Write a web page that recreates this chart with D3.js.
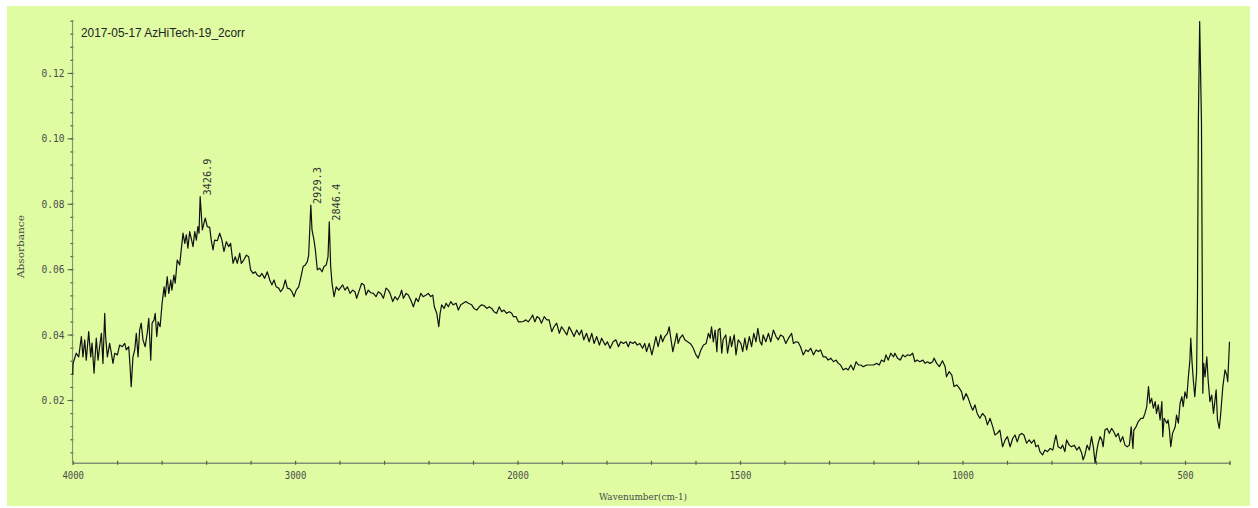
<!DOCTYPE html>
<html><head><meta charset="utf-8">
<script src="https://cdn.jsdelivr.net/npm/d3@7"></script>
<style>body{margin:0;background:#fff;} svg{display:block}</style>
</head><body><svg id="c" width="1258" height="508"></svg>
<script>
const title = "2017-05-17 AzHiTech-19_2corr";
const xTitle = "Wavenumber(cm-1)";
const yTitle = "Absorbance";

const wavenumber = [
4000,3998,3984,3973,3961,3954,3946,3939,3928,3919,3913,3904,3894,3886,3879,3871,3864,3856,3852,3844,
3834,3826,3819,3811,3799,3789,3777,3766,3759,3748,3742,3737,3729,3721,3714,3706,3699,3692,3684,3674,
3665,3658,3649,3643,3634,3629,3622,3616,3607,3598,3589,3584,3575,3568,3559,3554,3545,3539,3530,3519,
3512,3504,3496,3489,3482,3474,3467,3459,3451,3444,3437,3432,3426.9,3422,3417,3410,3404,3395,3384,3377,
3369,3362,3350,3339,3329,3320,3309,3299,3290,3279,3269,3260,3249,3242,3231,3219,3209,3200,3189,3179,
3170,3159,3149,3137,3125,3114,3104,3095,3085,3074,3065,3054,3044,3035,3024,3014,3005,2995,2984,2975,
2964,2954,2945,2939,2929.3,2924,2915,2909,2900,2889,2879,2870,2860,2852,2846.4,2840,2834,2825,2815,2804,
2786,2776,2765,2753,2741,2731,2723,2716,2708,2701,2690,2681,2671,2660,2648,2636,2626,2615,2603,2591,
2581,2573,2561,2551,2540,2528,2521,2513,2501,2491,2480,2468,2456,2446,2435,2424,2411,2401,2390,2381,
2374,2363,2354,2348,2341,2330,2321,2311,2300,2289,2276,2266,2255,2244,2232,2221,2206,2196,2183,2172,
2161,2151,2138,2127,2116,2106,2094,2082,2071,2061,2049,2037,2026,2019,2007,1998,1993,1987,1981,1976,
1970,1966,1961,1956,1951,1946,1940,1934,1929,1923,1918,1912,1906,1901,1896,1889,1884,1878,1873,1867,
1861,1856,1851,1845,1839,1833,1828,1822,1816,1811,1803,1798,1792,1785,1779,1773,1768,1762,1756,1751,
1747,1741,1736,1731,1725,1719,1714,1710,1704,1698,1693,1689,1684,1678,1674,1669,1663,1659,1656,1651,
1646,1642,1639,1635,1629,1624,1618,1612,1609,1605,1599,1594,1588,1582,1576,1571,1567,1564,1560,1556,
1552,1549,1545,1541,1538,1532,1528,1522,1519,1513,1509,1504,1498,1494,1489,1485,1479,1474,1469,1464,
1460,1455,1451,1448,1442,1436,1431,1425,1419,1414,1409,1403,1397,1391,1384,1380,1374,1369,1364,1358,
1352,1347,1341,1335,1329,1324,1319,1313,1307,1302,1296,1290,1284,1279,1274,1268,1262,1257,1251,1245,
1239,1234,1229,1223,1215,1208,1200,1193,1187,1182,1176,1172,1167,1161,1155,1152,1146,1140,1134,1129,
1124,1118,1112,1107,1102,1096,1089,1084,1079,1073,1067,1064,1058,1052,1045,1039,1036,1030,1024,1019,
1013,1007,1002,998,992,987,982,977,972,967,961,955,949,944,938,932,927,922,916,910,
904,899,893,887,882,877,872,867,862,856,850,845,839,835,830,826,820,815,809,803,
797,794,790,785,779,775,770,766,760,755,749,743,738,732,729,725,720,715,710,706,
702,698,695,691,687,684,680,675,670,665,660,655,650,645,640,635,630,625,621,617,
615,610,605,599,594,590,586,582,579,575,571,567,564,560,556,552,550,547,541,538,
535,532,528,522,519,515,511,507,504,500,496,493,489,487,484,481,478,474,472,470,
467,463,461,460,458,455,451,448,444,440,436,430,427,423,420,415,410,406,404,400
];
const absorbance = [
0.0277,0.0313,0.0343,0.0332,0.0394,0.0332,0.0384,0.0322,0.0409,0.0332,0.0374,0.0282,0.0389,0.0322,0.0363,0.0404,0.0312,0.0465,0.0394,0.0332,
0.0373,0.0343,0.0312,0.0343,0.0338,0.0368,0.0363,0.0373,0.0353,0.0363,0.0302,0.0241,0.0332,0.0353,0.0404,0.0332,0.0414,0.0435,0.0384,0.0363,
0.0404,0.0450,0.0322,0.0435,0.0445,0.0465,0.0394,0.0439,0.0424,0.0496,0.0546,0.0516,0.0577,0.0526,0.0567,0.0536,0.0582,0.0557,0.0628,0.0613,
0.0659,0.0710,0.0679,0.0705,0.0664,0.0715,0.0694,0.0669,0.0715,0.0689,0.0730,0.0710,0.0822,0.0771,0.0720,0.0740,0.0756,0.0730,0.0728,0.0689,
0.0659,0.0689,0.0687,0.0710,0.0689,0.0654,0.0684,0.0669,0.0679,0.0618,0.0638,0.0618,0.0649,0.0618,0.0628,0.0643,0.0638,0.0598,0.0587,0.0592,
0.0582,0.0577,0.0587,0.0572,0.0592,0.0567,0.0552,0.0567,0.0546,0.0542,0.0531,0.0542,0.0567,0.0542,0.0540,0.0531,0.0516,0.0536,0.0546,0.0572,
0.0608,0.0613,0.0623,0.0643,0.0796,0.0720,0.0689,0.0659,0.0598,0.0603,0.0592,0.0608,0.0613,0.0638,0.0745,0.0608,0.0557,0.0516,0.0546,0.0536,
0.0552,0.0536,0.0546,0.0526,0.0536,0.0531,0.0511,0.0526,0.0542,0.0557,0.0552,0.0521,0.0536,0.0528,0.0526,0.0516,0.0531,0.0526,0.0511,0.0542,
0.0536,0.0526,0.0501,0.0516,0.0506,0.0521,0.0536,0.0511,0.0526,0.0521,0.0506,0.0485,0.0511,0.0501,0.0526,0.0516,0.0521,0.0526,0.0516,0.0521,
0.0485,0.0465,0.0424,0.0465,0.0491,0.0480,0.0496,0.0485,0.0501,0.0491,0.0496,0.0475,0.0491,0.0496,0.0501,0.0496,0.0491,0.0480,0.0475,0.0485,
0.0491,0.0489,0.0480,0.0485,0.0480,0.0470,0.0465,0.0485,0.0470,0.0475,0.0465,0.0470,0.0465,0.0455,0.0455,0.0439,0.0439,0.0440,0.0445,0.0439,
0.0450,0.0460,0.0439,0.0455,0.0450,0.0435,0.0455,0.0445,0.0445,0.0409,0.0424,0.0435,0.0404,0.0424,0.0414,0.0399,0.0424,0.0409,0.0394,0.0414,
0.0399,0.0414,0.0384,0.0404,0.0378,0.0404,0.0373,0.0394,0.0368,0.0389,0.0368,0.0378,0.0358,0.0378,0.0384,0.0363,0.0378,0.0373,0.0378,0.0363,
0.0378,0.0373,0.0378,0.0368,0.0373,0.0358,0.0373,0.0348,0.0373,0.0338,0.0368,0.0394,0.0363,0.0399,0.0378,0.0394,0.0404,0.0424,0.0394,0.0348,
0.0378,0.0404,0.0373,0.0389,0.0399,0.0384,0.0378,0.0373,0.0368,0.0358,0.0338,0.0328,0.0353,0.0368,0.0373,0.0404,0.0389,0.0424,0.0378,0.0414,
0.0348,0.0414,0.0419,0.0343,0.0384,0.0399,0.0343,0.0394,0.0363,0.0399,0.0338,0.0384,0.0373,0.0348,0.0389,0.0353,0.0394,0.0363,0.0404,0.0378,
0.0419,0.0378,0.0368,0.0399,0.0378,0.0404,0.0378,0.0414,0.0394,0.0384,0.0399,0.0394,0.0373,0.0389,0.0404,0.0373,0.0378,0.0376,0.0363,0.0338,
0.0353,0.0348,0.0358,0.0338,0.0353,0.0348,0.0353,0.0332,0.0332,0.0322,0.0328,0.0317,0.0322,0.0312,0.0307,0.0292,0.0297,0.0292,0.0307,0.0292,
0.0317,0.0307,0.0307,0.0302,0.0307,0.0307,0.0307,0.0312,0.0307,0.0322,0.0317,0.0338,0.0322,0.0343,0.0332,0.0343,0.0328,0.0322,0.0338,0.0332,
0.0338,0.0336,0.0343,0.0317,0.0322,0.0317,0.0322,0.0312,0.0317,0.0312,0.0317,0.0328,0.0312,0.0302,0.0320,0.0302,0.0271,0.0287,0.0276,0.0241,
0.0246,0.0236,0.0225,0.0200,0.0220,0.0205,0.0185,0.0169,0.0185,0.0159,0.0144,0.0159,0.0149,0.0124,0.0144,0.0118,0.0093,0.0098,0.0108,0.0057,
0.0078,0.0088,0.0057,0.0083,0.0093,0.0072,0.0093,0.0098,0.0093,0.0068,0.0078,0.0068,0.0078,0.0057,0.0062,0.0042,0.0032,0.0047,0.0042,0.0052,
0.0047,0.0068,0.0093,0.0057,0.0052,0.0062,0.0042,0.0078,0.0062,0.0057,0.0062,0.0047,0.0057,0.0037,0.0017,0.0032,0.0062,0.0047,0.0088,0.0057,
0.0008,0.0047,0.0068,0.0088,0.0078,0.0057,0.0108,0.0113,0.0098,0.0113,0.0103,0.0088,0.0098,0.0072,0.0088,0.0062,0.0057,0.0062,0.0118,0.0052,
0.0108,0.0118,0.0134,0.0144,0.0144,0.0159,0.0180,0.0241,0.0190,0.0205,0.0175,0.0195,0.0159,0.0185,0.0139,0.0195,0.0088,0.0144,0.0129,0.0139,
0.0108,0.0057,0.0098,0.0118,0.0154,0.0129,0.0190,0.0210,0.0180,0.0225,0.0205,0.0261,0.0322,0.0389,0.0312,0.0256,0.0210,0.0282,0.0506,0.1048,
0.1357,0.1048,0.0506,0.0221,0.0312,0.0271,0.0332,0.0261,0.0195,0.0215,0.0159,0.0231,0.0139,0.0113,0.0154,0.0241,0.0292,0.0276,0.0256,0.0378
];

const peakWavenumbers = [3426.9, 2929.3, 2846.4];
const peakLabels = ["3426.9", "2929.3", "2846.4"];
const xTickLabels = [4000, 3000, 2000, 1500, 1000, 500];
const yTickLabels = [0.02, 0.04, 0.06, 0.08, 0.10, 0.12];

const data = wavenumber.map((w, i) => ({w, a: absorbance[i]}));

const svg = d3.select("#c");
const axisColor = "#838f73";
const textColor = "#4a4a4a";

svg.append("rect").attr("x", 0).attr("y", 0).attr("width", 1258).attr("height", 508).attr("fill", "#ffffff");
svg.append("rect").attr("x", 7).attr("y", 6).attr("width", 1243).attr("height", 500).attr("fill", "#dffca3");

// piecewise wavenumber axis (4000-2000 compressed)
const x = d3.scaleLinear().domain([4000, 2000, 400]).range([72.7, 517.5, 1229.5]);
const y = d3.scaleLinear().domain(d3.extent(absorbance)).range([462.8, 21.6]);

// X axis
const xMinor = d3.range(4000, 2000, -200).concat(d3.range(2000, 399, -100));
const xAxis = d3.axisBottom(x).tickValues(xMinor).tickSize(2)
  .tickFormat(d => xTickLabels.includes(d) ? String(d) : "");
const gx = svg.append("g").attr("transform", "translate(0,462.8)").call(xAxis);
gx.select(".domain").attr("stroke", axisColor).attr("stroke-width", 1.6);
gx.selectAll(".tick line").attr("stroke", "#556049").attr("y1", -2).attr("y2", 2).attr("stroke-width", 1.2);
gx.selectAll(".tick text").attr("y", 8).attr("dy", "0.71em")
  .attr("font-family", "DejaVu Sans Mono").attr("font-size", 11).attr("fill", textColor)
  .each(function(d) { const t = d3.select(this).text(); if (t) d3.select(this).attr("textLength", t.length * 5.4).attr("lengthAdjust", "spacingAndGlyphs"); });

// Y axis minor
const yMinor = d3.range(0.004, 0.1361, 0.004);
const gyMinor = svg.append("g").attr("transform", "translate(72.5,0)")
  .call(d3.axisLeft(y).tickValues(yMinor).tickSize(2).tickFormat(""));
gyMinor.select(".domain").remove();
gyMinor.selectAll(".tick line").attr("stroke", "#556049").attr("x1", 1).attr("x2", -2).attr("stroke-width", 1.3);

// Y axis major
const gy = svg.append("g").attr("transform", "translate(72.5,0)")
  .call(d3.axisLeft(y).tickValues(yTickLabels).tickSize(5).tickPadding(3).tickFormat(d3.format(".2f")));
gy.select(".domain").attr("stroke", axisColor).attr("stroke-width", 1.1).attr("d", `M0,${y.range()[0]}V${y.range()[1]}`);
gy.selectAll(".tick line").attr("stroke", "#556049");
gy.selectAll(".tick text").attr("font-family", "DejaVu Sans Mono").attr("font-size", 11).attr("fill", textColor)
  .attr("textLength", 23).attr("lengthAdjust", "spacingAndGlyphs");

// Axis titles
svg.append("text").attr("transform", "translate(23.5,246.5) rotate(-90)")
  .attr("text-anchor", "middle").attr("font-family", "DejaVu Serif").attr("font-size", 10)
  .attr("fill", textColor).attr("textLength", 63).attr("lengthAdjust", "spacingAndGlyphs").text(yTitle);
svg.append("text").attr("x", 643).attr("y", 500)
  .attr("text-anchor", "middle").attr("font-family", "DejaVu Serif").attr("font-size", 10)
  .attr("fill", textColor).attr("textLength", 88).attr("lengthAdjust", "spacingAndGlyphs").text(xTitle);

// Title
svg.append("text").attr("x", 81).attr("y", 36.5).attr("font-family", "Liberation Sans, Arial")
  .attr("font-size", 12.5).attr("fill", "#222").attr("textLength", 164).attr("lengthAdjust", "spacingAndGlyphs").text(title);

// Spectrum
const line = d3.line().x(d => x(d.w)).y(d => y(d.a));
svg.append("path").datum(data).attr("d", line).attr("fill", "none")
  .attr("stroke", "#111").attr("stroke-width", 1.2).attr("stroke-linejoin", "round");

// Peak labels
peakWavenumbers.forEach((pw, i) => {
  const p = data.find(d => d.w === pw);
  svg.append("text")
    .attr("transform", `translate(${x(p.w) + 10.5},${y(p.a) - 1}) rotate(-90)`)
    .attr("font-family", "DejaVu Sans Mono").attr("font-size", 10.5).attr("fill", "#333")
    .attr("textLength", 37).attr("lengthAdjust", "spacingAndGlyphs")
    .text(peakLabels[i]);
});
</script>
</body></html>
